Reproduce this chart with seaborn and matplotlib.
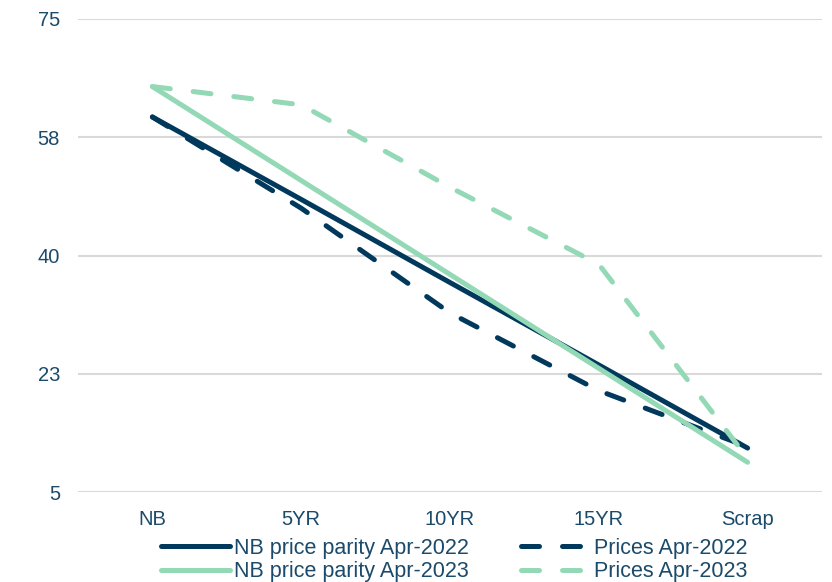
import matplotlib
matplotlib.use("Agg")
import matplotlib.pyplot as plt
from matplotlib.lines import Line2D
import seaborn as sns
import pandas as pd

# Residual value curves by age bucket
categories = ["NB", "5YR", "10YR", "15YR", "Scrap"]
parity_apr_2022 = [60.5, 48.3, 36.0, 23.8, 11.5]
parity_apr_2023 = [65.0, 51.1, 37.2, 23.3, 9.4]
prices_apr_2022 = [60.5, 47.0, 31.5, 20.0, 11.7]
prices_apr_2023 = [65.0, 62.3, 50.1, 38.7, 10.0]

series_names = ["NB price parity Apr-2022", "NB price parity Apr-2023",
                "Prices Apr-2022", "Prices Apr-2023"]
ytick_values = [5, 22.5, 40, 57.5, 75]
ytick_labels = ["5", "23", "40", "58", "75"]

NAVY = "#00395C"
GREEN = "#93D9B6"
TEXT = "#1B4A6B"
GRID = "#D9D9D9"

sns.set_theme(style="white")
plt.rcParams["font.family"] = ["Liberation Sans", "DejaVu Sans"]

frames = []
for name, vals in zip(series_names,
                      [parity_apr_2022, parity_apr_2023, prices_apr_2022, prices_apr_2023]):
    frames.append(pd.DataFrame({"pos": range(len(categories)), "value": vals, "series": name}))
df = pd.concat(frames, ignore_index=True)

styles = {
    "NB price parity Apr-2022": dict(color=NAVY, dashed=False),
    "NB price parity Apr-2023": dict(color=GREEN, dashed=False),
    "Prices Apr-2022": dict(color=NAVY, dashed=True),
    "Prices Apr-2023": dict(color=GREEN, dashed=True),
}
LW = 3.6
DASH = (3.6, 4.6)

fig = plt.figure(figsize=(8.32, 5.82), dpi=100)
ax = fig.add_axes([78 / 832, 1 - 492 / 582, 744 / 832, 473 / 582])

draw_order = ["NB price parity Apr-2022", "Prices Apr-2022",
              "NB price parity Apr-2023", "Prices Apr-2023"]
for name in draw_order:
    st = styles[name]
    sub = df[df["series"] == name]
    sns.lineplot(data=sub, x="pos", y="value", ax=ax, color=st["color"],
                 linewidth=LW, legend=False, sort=False, zorder=3)
    line = ax.lines[-1]
    line.set_solid_capstyle("round")
    line.set_solid_joinstyle("round")
    if st["dashed"]:
        line.set_dashes(DASH)
        line.set_dash_capstyle("round")

ax.set_xlim(-0.5, len(categories) - 0.5)
ax.set_ylim(5, 75)
ax.set_xticks(range(len(categories)))
ax.set_xticklabels(categories)
ax.set_yticks(ytick_values)
ax.set_yticklabels(ytick_labels)
ax.set_xlabel("")
ax.set_ylabel("")

for s in ax.spines.values():
    s.set_visible(False)
ax.set_axisbelow(True)
ax.yaxis.grid(True, color=GRID, linewidth=1.5)
ax.xaxis.grid(False)
ax.tick_params(axis="x", length=0, pad=13, labelsize=14.5, labelcolor=TEXT)
ax.tick_params(axis="y", length=0, pad=13, labelsize=14.5, labelcolor=TEXT)

handles = []
for name in series_names:
    st = styles[name]
    h = Line2D([0], [0], color=st["color"], linewidth=LW, solid_capstyle="round",
               dash_capstyle="round")
    if st["dashed"]:
        h.set_dashes(DASH)
    handles.append(h)

fig.legend(handles, series_names, loc="center", ncol=2,
           bbox_to_anchor=(454 / 832, 1 - 560 / 582), frameon=False,
           fontsize=15.5, labelcolor=TEXT, handlelength=3.2, handletextpad=0.2,
           columnspacing=2.4, labelspacing=0.1, borderaxespad=0, borderpad=0)

fig.savefig("out.png", dpi=100)
